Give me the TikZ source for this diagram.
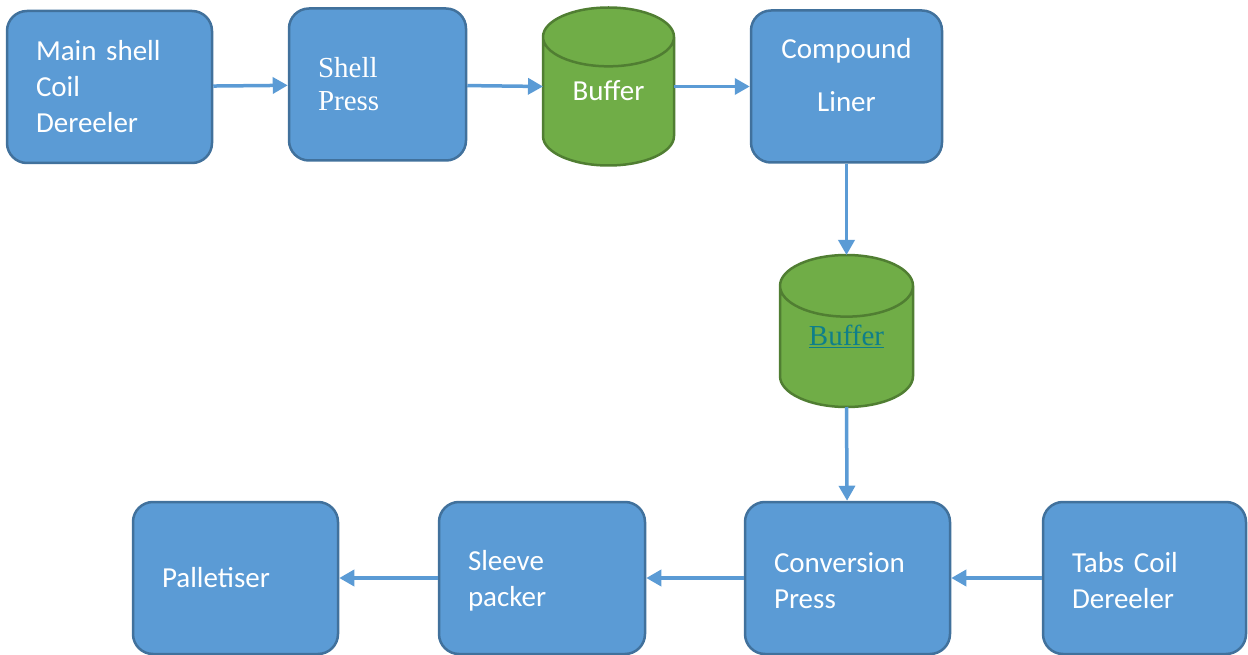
\documentclass[tikz,border=0pt]{standalone}
\usepackage{fontspec}
\usepackage{xcolor}
\usetikzlibrary{shapes.geometric,arrows.meta}
\newfontfamily\bodyfont{Carlito}
\newfontfamily\serifface{Liberation Serif}
\definecolor{boxblue}{HTML}{5B9BD5}
\definecolor{boxedge}{HTML}{41719C}
\definecolor{storegreen}{HTML}{70AD47}
\definecolor{storeedge}{HTML}{507E32}
\definecolor{linkteal}{HTML}{0E7F8A}
\newcommand{\topstrut}{\rule{0pt}{26pt}}
\tikzset{
  unit/.style={draw=boxedge,fill=boxblue,line width=2.5pt,rounded corners=20pt,
    minimum height=152pt,inner sep=0pt,text=white,
    font=\bodyfont\fontsize{29pt}{36pt}\selectfont},
  store/.style={cylinder,shape border rotate=90,aspect=0.82,anchor=shape center,
    draw=storeedge,fill=storegreen,line width=2.5pt,inner sep=0pt,text=white,
    font=\bodyfont\fontsize{29pt}{36pt}\selectfont},
  flow/.style={draw=boxblue,line width=3.5pt,-{Triangle[length=15pt,width=16pt]}}
}
\begin{document}
\begin{tikzpicture}[x=1pt,y=-1pt]
  \useasboundingbox (0,0) rectangle (1248,655);
  % top row
  \node[unit,minimum width=205pt,text width=147pt,align=left] (main) at (109.5,87)
    {Main shell\\Coil\\Dereeler};
  \node[unit,minimum width=177pt,text width=119pt,align=left,
    font=\serifface\fontsize{29pt}{33pt}\selectfont] (shell) at (377.5,84.5)
    {Shell\\Press};
  \node[store,minimum width=131pt,minimum height=158pt] (buf1) at (608.5,86.5)
    {\raisebox{22pt}{Buffer}};
  \node[unit,minimum width=191pt] (liner) at (846.5,86.5) {};
  \node[text=white,align=center,inner sep=0pt,
    font=\bodyfont\fontsize{29pt}{36pt}\selectfont] (linertext) at (846.5,75.5)
    {Compound\\[17pt]Liner};
  % second buffer
  \node[store,minimum width=133pt,minimum height=152pt,text=linkteal,
    font=\serifface\fontsize{29pt}{33pt}\selectfont] (buf2) at (846.5,331)
    {\raisebox{23pt}{\underline{Buffer}}};
  % ends of the cylinders, taken from the shape centre
  \path (buf1.shape center) ++(-65.5,0) coordinate (buf1 in) ++(131,0) coordinate (buf1 out);
  \path (buf2.shape center) ++(0,-76) coordinate (buf2 top) ++(0,152) coordinate (buf2 foot);
  % bottom row
  \node[unit,minimum width=205pt,text width=147pt,align=left] (conv) at (847.5,578)
    {\topstrut Conversion\\Press};
  \node[unit,minimum width=203pt,text width=145pt,align=left] (tabs) at (1144.5,578)
    {\topstrut Tabs Coil\\Dereeler};
  \node[unit,minimum width=206pt,text width=148pt,align=left] (sleeve) at (542,578)
    {\topstrut Sleeve\\packer};
  \node[unit,minimum width=205pt,text width=147pt,align=left] (pallet) at (235.5,578)
    {Palletiser};
  % material flow
  \draw[flow] (main) -- (shell);
  \draw[flow] (shell) -- (buf1 in);
  \draw[flow] (buf1 out) -- (liner);
  \draw[flow] (liner) -- (buf2 top);
  \draw[flow] (buf2 foot) -- (conv);
  \draw[flow] (tabs) -- (conv);
  \draw[flow] (conv) -- (sleeve);
  \draw[flow] (sleeve) -- (pallet);
\end{tikzpicture}
\end{document}
